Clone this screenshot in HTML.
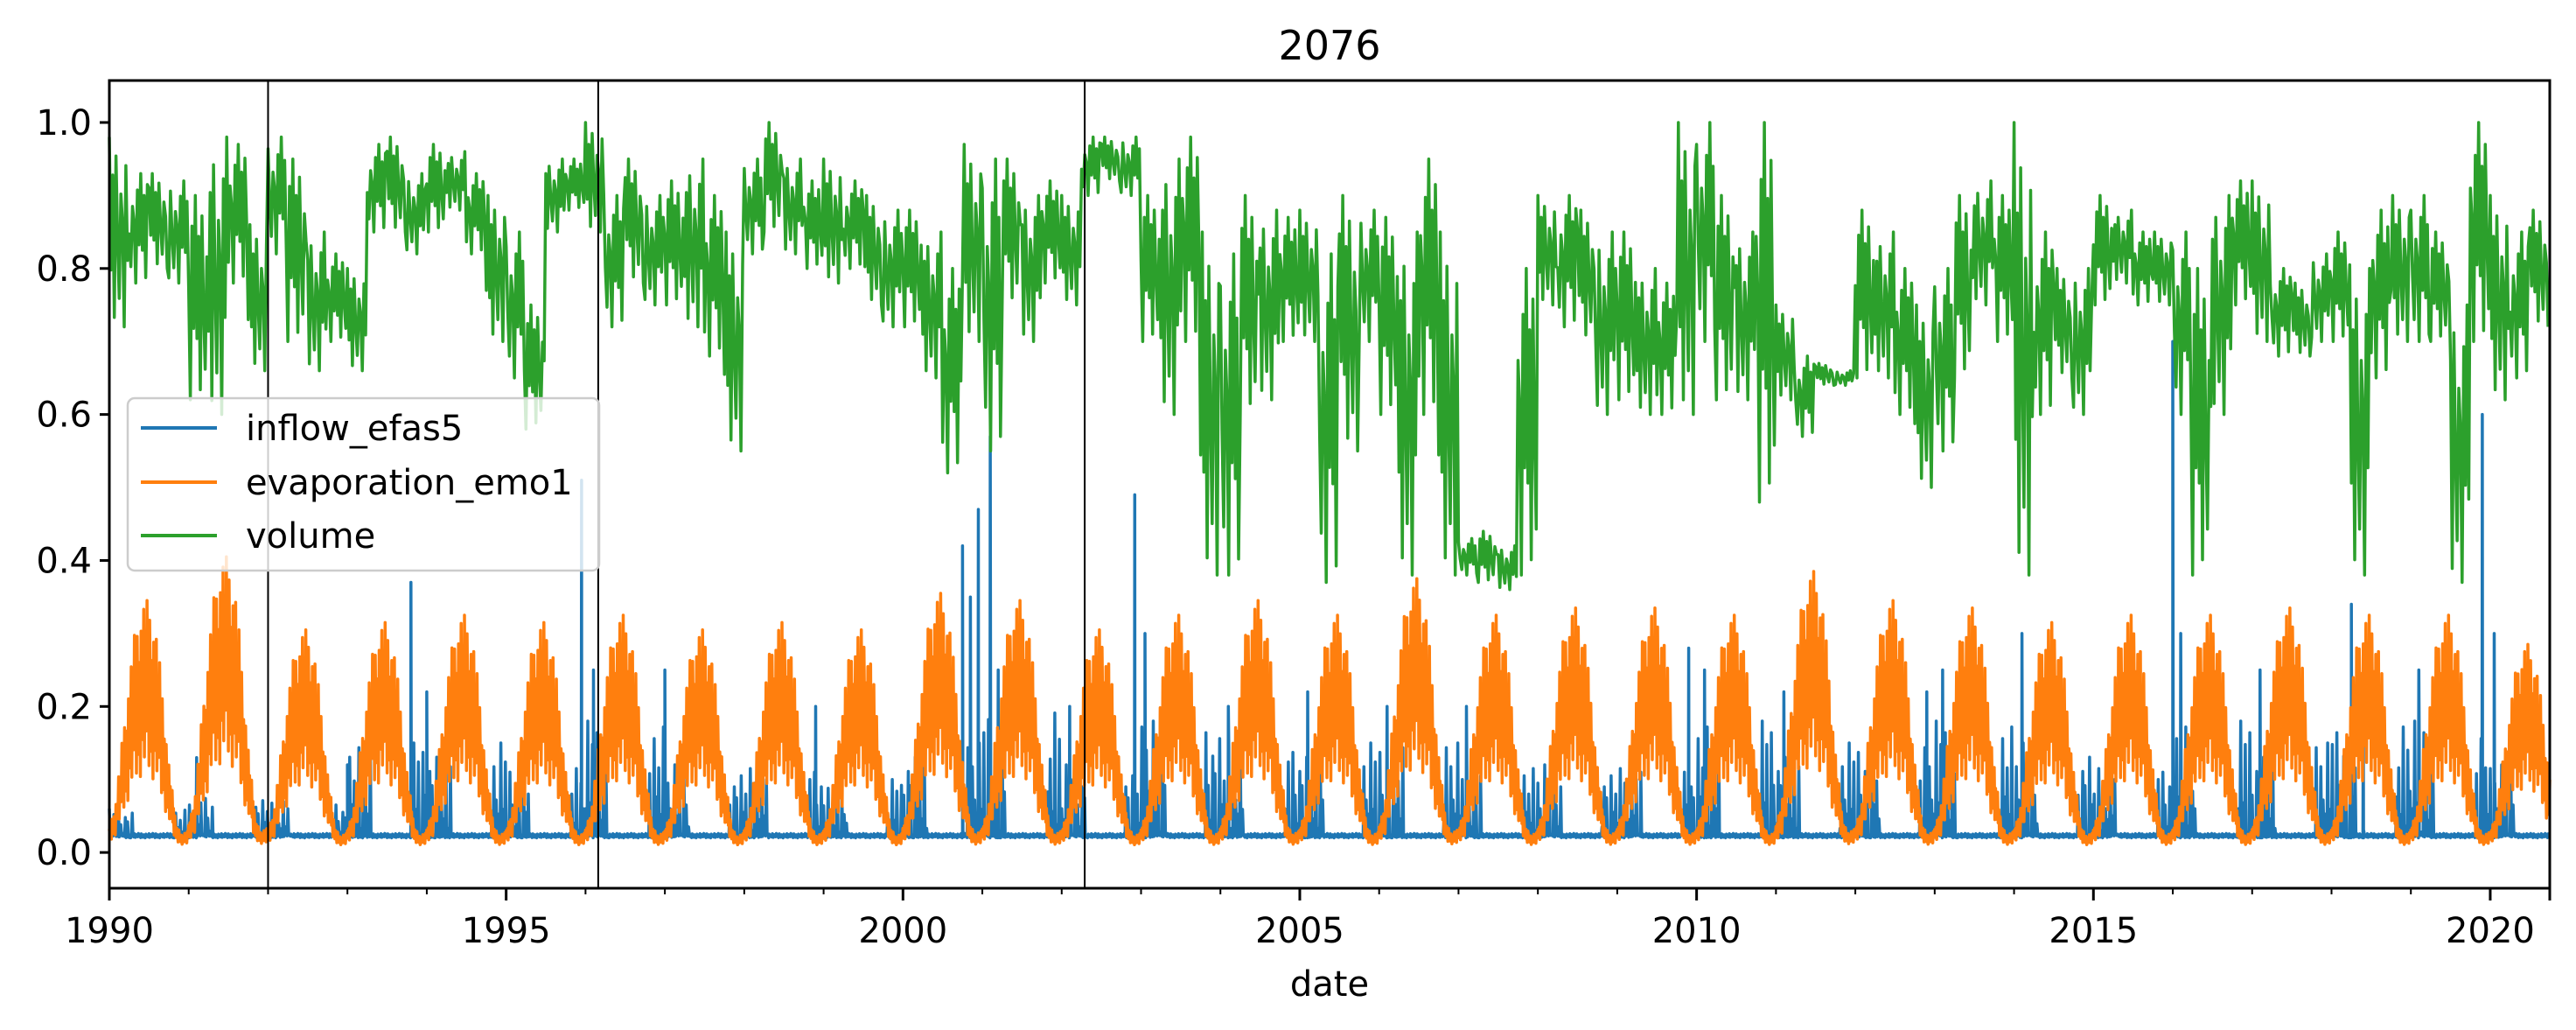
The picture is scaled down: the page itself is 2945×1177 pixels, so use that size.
<!DOCTYPE html>
<html><head><meta charset="utf-8"><style>
html,body{margin:0;padding:0;background:#fff;}
svg text{font-family:"DejaVu Sans","Liberation Sans",sans-serif;}
</style></head><body>
<svg id="chart" width="2945" height="1172" viewBox="0 0 2945 1172" xmlns="http://www.w3.org/2000/svg">
<rect width="2945" height="1172" fill="#fff"/>
<text x="1520" y="68" font-size="46" text-anchor="middle">2076</text>
<text x="1520" y="1138" font-size="40" text-anchor="middle">date</text>
<g id="plot"></g>
</svg>
<script>
// ---- data ----
const yTicks = [0.0, 0.2, 0.4, 0.6, 0.8, 1.0];
const yTickLabels = ["0.0", "0.2", "0.4", "0.6", "0.8", "1.0"];
const xTicks = [1990, 1995, 2000, 2005, 2010, 2015, 2020];
const xTickLabels = ["1990", "1995", "2000", "2005", "2010", "2015", "2020"];
const eventLines = [1992.0, 1996.16, 2002.29];
// volume: quarterly high / low per year 1990..2020 (Q1..Q4)
const volumeHigh = [
.98,.93,.93,.92, .90,.98,.97,.86, .98,.95,.85,.82, .80,.97,.98,.93, .97,.96,.93,.90,
.85,.75,.95,.95, 1.0,.90,.95,.90, .92,.95,.90,.85, .95,1.0,.95,.92, .95,.92,.90,.88,
.88,.85,.80,.97, .95,.95,.90,.92, .90,.98,.98,.98, .90,.95,.98,.85, .82,.90,.88,.87,
.88,.82,.90,.88, .87,.85,.95,.85, .43,.44,.42,.80, .90,.90,.88,.85, .85,.80,.78,1.0,
1.0,.90,.85,1.0, .75,.68,.67,.66, .88,.85,.80,.75, .80,.90,.92,.90, 1.0,.85,.80,.80,
.90,.88,.85,.85, .85,.80,.90,.92, .92,.80,.78,.82, .85,.80,.88,.90, .90,.85,.75,1.0,
.90,.85,.88];
const volumeLow = [
.72,.78,.80,.78, .62,.60,.78,.66, .82,.70,.66,.70, .66,.85,.85,.82, .85,.88,.82,.70,
.65,.58,.85,.88, .85,.72,.78,.75, .75,.72,.68,.55, .82,.85,.82,.80, .78,.80,.75,.72,
.72,.65,.52,.70, .55,.75,.70,.78, .75,.90,.92,.90, .70,.60,.70,.38, .38,.60,.62,.70,
.70,.37,.55,.70, .60,.38,.60,.38, .38,.37,.36,.38, .75,.72,.70,.60, .62,.60,.60,.60,
.70,.62,.62,.48, .62,.57,.64,.64, .65,.65,.60,.50, .55,.65,.75,.70, .38,.60,.65,.60,
.75,.78,.75,.75, .60,.38,.60,.75, .70,.68,.68,.70, .70,.38,.65,.70, .70,.70,.37,.70,
.62,.65,.72];
// evaporation: yearly peak value and monthly seasonal profile
const evapPeak = [.34,.40,.30,.31,.32,.31,.32,.30,.31,.30,.35,.34,.30,.32,.34,.32,.37,.32,.33,.33,.32,.38,.34,.33,.31,.32,.32,.33,.32,.32,.28];
const evapProfile = [.08,.2,.45,.7,.9,1.0,1.0,.9,.65,.35,.12,.05];
// inflow: baseline, yearly winter activity level, and isolated spikes [year, value]
const inflowBase = 0.02;
const inflowWinter = [.06,.08,.07,.15,.15,.12,.18,.12,.12,.10,.15,.20,.12,.18,.15,.15,.15,.12,.12,.12,.18,.15,.15,.18,.15,.12,.18,.15,.18,.18,.12];
const inflowSpikes = [
[1991.1,.13],[1993.0,.12],[1993.8,.37],[1994.0,.22],[1995.95,.51],[1996.1,.25],[1997.0,.25],[1998.9,.20],
[2000.75,.42],[2000.85,.35],[2000.95,.47],[2001.1,.57],[2001.2,.25],[2002.1,.20],
[2002.92,.49],[2003.05,.30],[2004.1,.20],[2005.1,.22],[2006.1,.20],[2007.1,.20],[2009.9,.28],[2010.1,.25],[2011.1,.22],[2012.9,.22],[2013.1,.25],[2014.1,.30],
[2016.0,.70],[2016.1,.30],[2017.1,.25],[2018.25,.34],[2018.4,.20],[2019.1,.25],[2019.9,.60],[2020.05,.30]];

// ---- scales ----
const X0 = 125, X1 = 2915, Y0 = 92, Y1 = 1015;
const xMin = 1990, xMax = 2020.75, yMin = -0.049, yMax = 1.0575;
const xs = v => X0 + (v - xMin) / (xMax - xMin) * (X1 - X0);
const ys = v => Y1 - (v - yMin) / (yMax - yMin) * (Y1 - Y0);
const NS = "http://www.w3.org/2000/svg";
const plot = document.getElementById('plot');
function mk(tag, attrs, parent) {
  const e = document.createElementNS(NS, tag);
  for (const k in attrs) e.setAttribute(k, attrs[k]);
  (parent || plot).appendChild(e);
  return e;
}
const jitter = [1, .3, .8, .05, .9, .45, .15, .7, .55, 0, .85, .35, .6, .2, .95, .1, .75, .4, .25];

// inflow
let pts = [];
const years = xMax - xMin;
for (let i = 0; i <= years * 104; i++) {
  const t = xMin + i / 104;
  const yi = Math.floor(t - 1990);
  const frac = t - Math.floor(t);
  const winter = (frac < 0.3 || frac > 0.8);
  let v = inflowBase + jitter[i % 19] * 0.006;
  if (winter && i % 3 === 0) v = inflowBase + (inflowWinter[Math.min(yi, inflowWinter.length - 1)] - inflowBase) * jitter[(i / 3) % 19];
  pts.push([t, v]);
}
inflowSpikes.forEach(s => { pts.push([s[0] - 0.004, inflowBase], [s[0], s[1]], [s[0] + 0.006, inflowBase + 0.01]); });
pts.sort((a, b) => a[0] - b[0]);
const inflow = mk('polyline', {points: pts.map(p => xs(p[0]).toFixed(1) + ',' + ys(p[1]).toFixed(1)).join(' '), fill: 'none', stroke: '#1f77b4', 'stroke-width': 3.5, 'stroke-linejoin': 'round'});



// evaporation
pts = [];
evapPeak.forEach((pk, yi) => {
  evapProfile.forEach((f, m) => {
    for (let k = 0; k < 10; k++) {
      const t = 1990 + yi + (m + k / 10) / 12;
      if (t > xMax) return;
      const nf = evapProfile[(m + 1) % 12];
      const base = f + (nf - f) * k / 10;
      const hi = pk * base, lo = hi * 0.3;
      const j = jitter[(m * 10 + k) % 19];
      pts.push([t, 0.005 + lo + (hi - lo) * j]);
    }
  });
});
const evap = mk('polyline', {points: pts.map(p => xs(p[0]).toFixed(1) + ',' + ys(p[1]).toFixed(1)).join(' '), fill: 'none', stroke: '#ff7f0e', 'stroke-width': 3.5, 'stroke-linejoin': 'round'});



// volume
pts = [];
volumeHigh.forEach((hi, qi) => {
  const lo = volumeLow[qi];
  for (let k = 0; k < 12; k++) {
    const t = 1990 + (qi + k / 12) / 4;
    if (t > xMax) break;
    pts.push([t, lo + (hi - lo) * jitter[(k + qi * 5) % 12]]);
  }
});
const vol = mk('polyline', {points: pts.map(p => xs(p[0]).toFixed(1) + ',' + ys(p[1]).toFixed(1)).join(' '), fill: 'none', stroke: '#2ca02c', 'stroke-width': 3.5, 'stroke-linejoin': 'round'});



// event lines
eventLines.forEach(v => {
  const l = mk('line', {x1: xs(v), x2: xs(v), y1: Y0, y2: Y1, stroke: '#000', 'stroke-width': 2});
  
  
});

// axes frame
const frame = mk('rect', {x: X0, y: Y0, width: X1 - X0, height: Y1 - Y0, fill: 'none', stroke: '#000', 'stroke-width': 3});



// y ticks
yTicks.forEach((v, i) => {
  mk('line', {x1: X0 - 11, x2: X0, y1: ys(v), y2: ys(v), stroke: '#000', 'stroke-width': 3});
  const t = mk('text', {x: X0 - 20, y: ys(v) + 14, 'font-size': 40, 'text-anchor': 'end'});
  t.textContent = yTickLabels[i];
  
  
});
// x minor ticks
for (let yr = 1991; yr <= 2020; yr++) {
  if (xTicks.indexOf(yr) >= 0) continue;
  mk('line', {x1: xs(yr), x2: xs(yr), y1: Y1, y2: Y1 + 7, stroke: '#000', 'stroke-width': 2});
}
mk('line', {x1: X1, x2: X1, y1: Y1, y2: Y1 + 14, stroke: '#000', 'stroke-width': 3});
xTicks.forEach((v, i) => {
  mk('line', {x1: xs(v), x2: xs(v), y1: Y1, y2: Y1 + 14, stroke: '#000', 'stroke-width': 3});
  const t = mk('text', {x: xs(v), y: 1077, 'font-size': 40, 'text-anchor': 'middle'});
  t.textContent = xTickLabels[i];
  
  
});

// legend
const lg = mk('g', {});


mk('rect', {x: 146, y: 455, width: 539, height: 197, rx: 8, fill: '#fff', 'fill-opacity': 0.8, stroke: '#ccc', 'stroke-width': 2.5}, lg);
const legNames = ['inflow_efas5', 'evaporation_emo1', 'volume'];
const legColors = ['#1f77b4', '#ff7f0e', '#2ca02c'];
const legY = [489, 551, 612];
legNames.forEach((n, i) => {
  const g = mk('g', {}, lg);
  
  
  mk('line', {x1: 161, x2: 248, y1: legY[i], y2: legY[i], stroke: legColors[i], 'stroke-width': 4}, g);
  const t = mk('text', {x: 281, y: legY[i] + 14, 'font-size': 40}, g);
  t.textContent = n;
});
</script>
</body></html>
